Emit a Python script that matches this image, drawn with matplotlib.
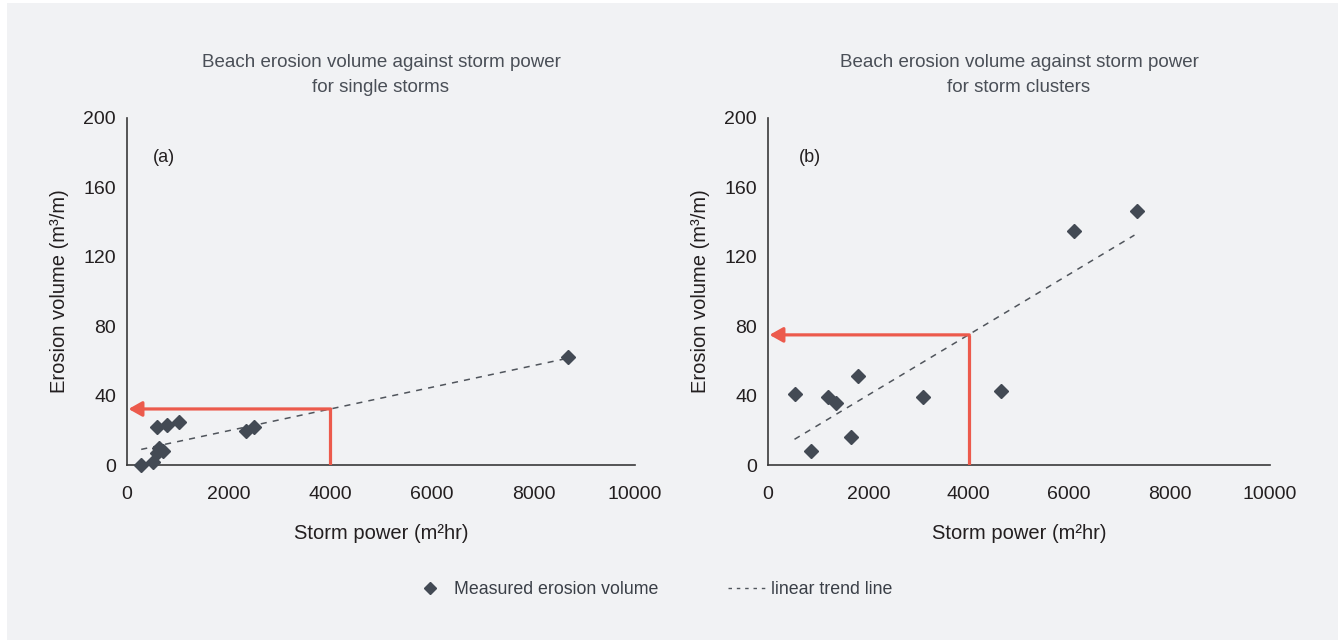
import matplotlib
matplotlib.use('Agg')
import matplotlib.pyplot as plt
from matplotlib.lines import Line2D
from matplotlib.patches import Rectangle

# ============================================================
# data
single_power = [280, 520, 585, 600, 625, 717, 782, 1032, 2347, 2492, 8672]
single_volume = [0, 1.5, 22, 7, 9.6, 8.3, 23, 25, 19.6, 22, 62.4]
single_trend_x = [280, 8672]
single_trend_y = [9, 61.5]
single_read_y = 32.3

cluster_power = [528, 865, 1195, 1360, 1663, 1795, 3089, 4640, 6090, 7345]
cluster_volume = [40.9, 8, 39, 35.5, 16, 51.3, 39, 42.5, 135, 146.6]
cluster_trend_x = [528, 7300]
cluster_trend_y = [14.8, 132.5]
cluster_read_y = 75

read_x = 4000
x_ticks = [0, 2000, 4000, 6000, 8000, 10000]
y_ticks = [0, 40, 80, 120, 160, 200]

titles = ['Beach erosion volume against storm power\nfor single storms',
          'Beach erosion volume against storm power\nfor storm clusters']
panel_tags = ['(a)', '(b)']

bg = '#f1f2f4'
marker_c = '#434a54'
red = '#ec5a4c'
txt = '#231f20'
plt.rcParams['font.family'] = ['Liberation Sans', 'DejaVu Sans']

fig = plt.figure(figsize=(13.4, 6.43), dpi=100)
fig.patch.set_facecolor('white')
fig.patches.append(Rectangle((7 / 1340, 3 / 643), 1331 / 1340, 637 / 643,
                             transform=fig.transFigure, facecolor=bg, edgecolor='none', zorder=-10))

ax1 = fig.add_axes([127 / 1340, 1 - 465 / 643, 508 / 1340, 347 / 643])
ax2 = fig.add_axes([768 / 1340, 1 - 465 / 643, 502 / 1340, 347 / 643])

panels = [
    (ax1, single_power, single_volume, single_trend_x, single_trend_y, single_read_y),
    (ax2, cluster_power, cluster_volume, cluster_trend_x, cluster_trend_y, cluster_read_y),
]
for i, (ax, px, py, tx, ty, ry) in enumerate(panels):
    ax.set_facecolor('none')
    ax.plot(tx, ty, linestyle=(0, (4, 4)), color='#50555c', lw=1.1, zorder=2)
    ax.plot(px, py, linestyle='none', marker='D', markersize=6.8, color=marker_c, zorder=4, clip_on=False)
    # red reading lines
    ax.plot([read_x, read_x], [0, ry], color=red, lw=2.3, zorder=3, solid_capstyle='butt')
    ax.annotate('', xy=(30, ry), xytext=(read_x + 10, ry),
                arrowprops=dict(arrowstyle='-|>,head_length=0.8,head_width=0.45',
                                color=red, lw=2.3, shrinkA=0, shrinkB=0), zorder=3)
    ax.set_xlim(0, 10000)
    ax.set_ylim(0, 200)
    ax.set_xticks(x_ticks)
    ax.set_yticks(y_ticks)
    ax.tick_params(length=0, labelsize=14, colors=txt)
    ax.tick_params(axis='x', pad=15)
    ax.tick_params(axis='y', pad=8)
    for s in ['top', 'right']:
        ax.spines[s].set_visible(False)
    for s in ['left', 'bottom']:
        ax.spines[s].set_color('#3a3a3a')
        ax.spines[s].set_linewidth(1.2)
    ax.set_xlabel('Storm power (m²hr)', fontsize=14.5, color=txt, labelpad=15)
    ax.set_ylabel('Erosion volume (m³/m)', fontsize=14.5, color=txt, labelpad=10)
    ax.set_title(titles[i], fontsize=13.5, color='#4a4f57', pad=19, linespacing=1.58)
    ax.text(0.051 if i == 0 else 0.062, 0.885, panel_tags[i], transform=ax.transAxes,
            fontsize=13, color=txt, va='center')

handles = [
    Line2D([], [], linestyle='none', marker='D', markersize=6, color=marker_c),
    Line2D([], [], linestyle=(0, (2.5, 3.5)), color='#50555c', lw=1.0),
]
fig.legend(handles, ['Measured erosion volume', 'linear trend line'], loc='center',
           bbox_to_anchor=(0.4864, 1 - 590 / 643), ncol=2, frameon=False, fontsize=12.8,
           handlelength=2.1, handletextpad=0.3, columnspacing=3.95, labelcolor='#3a3f47')

fig.savefig('out.png', dpi=100, facecolor=fig.get_facecolor())
